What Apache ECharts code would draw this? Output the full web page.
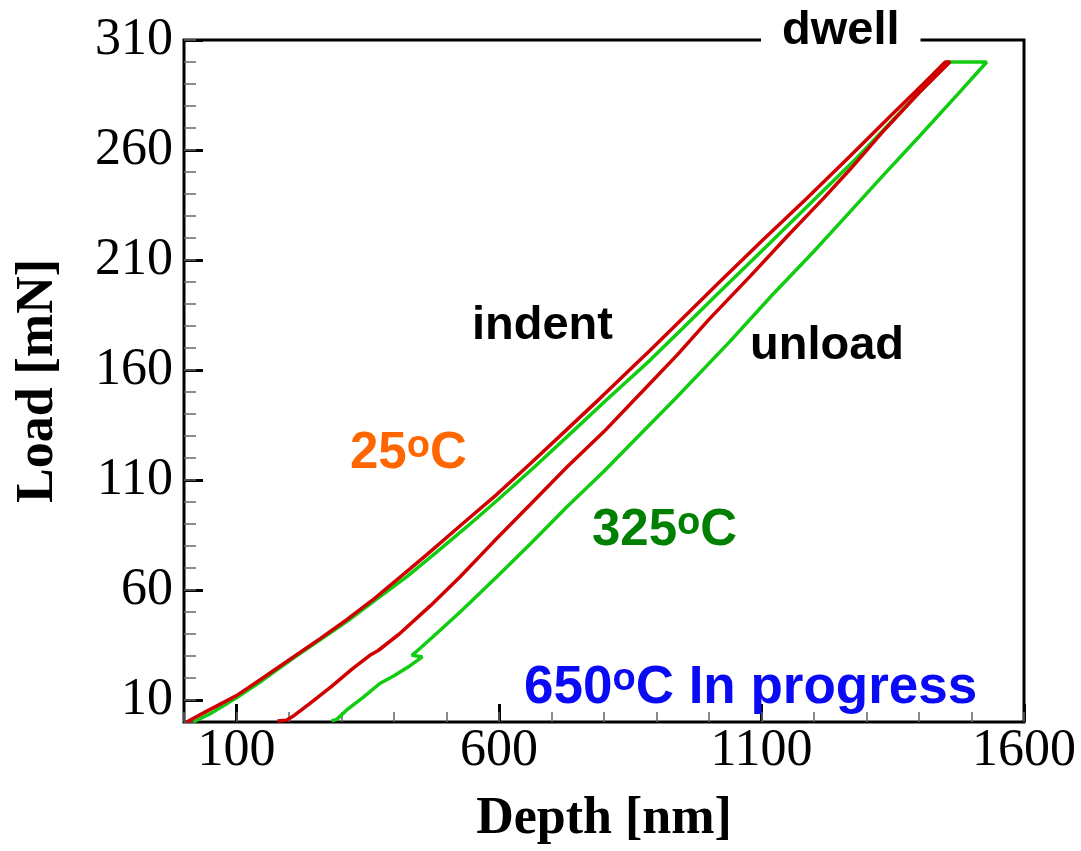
<!DOCTYPE html>
<html>
<head>
<meta charset="utf-8">
<script src="https://cdn.jsdelivr.net/npm/echarts@6/dist/echarts.min.js"></script>
<style>
html,body{margin:0;padding:0;background:#fff;}
#chart{width:1081px;height:851px;}
</style>
</head>
<body>
<div id="chart"></div>
<script>
// ---- data (depth nm, load mN) ----
var red25Loading = [[5,0],[40,4.5],[100,12],[150,20],[202,28.5],[260,38],[310,46.5],[362,56],[415,66.5],[462,76],[530,90],[596,103.5],[660,117.5],[725,132],[792,147],[855,161.5],[888,169],[950,183.5],[1020,200],[1100,218.5],[1186,238],[1268,257],[1350,276.5],[1410,290.5],[1450,300]];
var red25Unloading = [[1459,300],[1400,286],[1330,268],[1268,251],[1218,238],[1150,221],[1080,203],[1000,183],[940,167],[888,154],[862,147.5],[800,132],[730,116],[660,99],[590,82],[526,66],[470,53],[410,40],[370,32.5],[354,30.3],[320,24],[280,16],[240,8.5],[210,3],[195,0.8],[178,0.5]];
var green325Loading = [[18,0],[50,3.8],[100,11],[150,19],[205,28.5],[260,37.5],[312,46],[365,55.5],[424,66],[480,77],[540,89],[600,101.5],[670,116.5],[740,132],[805,146.5],[888,164.5],[950,179],[1020,195.5],[1100,214],[1205,238.5],[1280,256],[1360,276],[1420,291],[1455,300]];
var green325Unloading = [[1529,300],[1480,287],[1400,266],[1330,248],[1269,232],[1200,214],[1120,194],[1040,173],[938,147.5],[870,131],[800,114],[730,98],[660,81],[596,66],[526,50],[480,40],[445,32.5],[434,30.3],[454,29.6],[430,25.5],[400,21],[373,17.5],[340,11],[310,5.5],[291,1.2],[281,0.5]];
var xMajorTicks = [100,600,1100,1600];
var yMajorTicks = [10,60,110,160,210,260,310];

var serif = 'Liberation Serif, Times New Roman, serif';
var sans = 'Liberation Sans, Arial, sans-serif';

var chart = echarts.init(document.getElementById('chart'), null, {renderer:'canvas'});
var option = {
  backgroundColor:'#fff',
  animation:false,
  grid:{left:184,right:57,top:40,bottom:125,show:true,borderColor:'#000',borderWidth:3,backgroundColor:'transparent'},
  xAxis:[{
    type:'value',min:0,max:1600,
    name:'Depth [nm]',nameLocation:'middle',nameGap:72,
    nameTextStyle:{fontFamily:serif,fontWeight:'bold',fontSize:52,color:'#000'},
    axisLine:{show:false},
    axisTick:{show:true,inside:true,length:18,lineStyle:{color:'#000',width:3},customValues:xMajorTicks},
    axisLabel:{show:true,customValues:xMajorTicks,fontFamily:serif,fontSize:52,color:'#000',margin:3,
      formatter:function(v){return String(v);}},
    splitLine:{show:false}
  },{
    type:'value',min:0,max:1600,interval:100,position:'bottom',
    axisLine:{show:false},
    axisTick:{show:true,inside:true,length:10,lineStyle:{color:'#666',width:1.5}},
    axisLabel:{show:false},splitLine:{show:false}
  }],
  yAxis:[{
    type:'value',min:0,max:310,
    name:'Load [mN]',nameLocation:'middle',nameGap:119,nameRotate:90,
    nameTextStyle:{fontFamily:serif,fontWeight:'bold',fontSize:52,color:'#000'},
    axisLine:{show:false},
    axisTick:{show:true,inside:true,length:19,lineStyle:{color:'#000',width:3},customValues:yMajorTicks},
    axisLabel:{show:true,customValues:yMajorTicks,fontFamily:serif,fontSize:52,color:'#000',margin:11,
      formatter:function(v){return String(v);}},
    splitLine:{show:false}
  },{
    type:'value',min:0,max:310,interval:10,position:'left',
    axisLine:{show:false},
    axisTick:{show:true,inside:true,length:12,lineStyle:{color:'#666',width:1.5}},
    axisLabel:{show:false},splitLine:{show:false}
  }],
  series:[
    {name:'325C',type:'line',xAxisIndex:0,yAxisIndex:0,showSymbol:false,symbol:'none',
     data:green325Loading.concat(green325Unloading),
     lineStyle:{color:'#11cc11',width:3.5},z:2},
    {name:'25C',type:'line',xAxisIndex:0,yAxisIndex:0,showSymbol:false,symbol:'none',
     data:red25Loading.concat(red25Unloading),
     lineStyle:{color:'#d00000',width:3.5},z:3}
  ],
  graphic:[
    {type:'text',left:761,top:8,z:100,style:{text:'dwell',font:'bold 47px '+sans,fill:'#000',backgroundColor:'#fff',padding:[0,21,0,21]}},
    {type:'text',left:472,top:303,z:100,style:{text:'indent',font:'bold 47px '+sans,fill:'#000'}},
    {type:'text',left:750,top:323,z:100,style:{text:'unload',font:'bold 47px '+sans,fill:'#000'}},
    {type:'text',left:350,top:428,z:100,style:{text:'{a|25}{s|o}{a|C}',fill:'#ff6600',
      rich:{a:{fontFamily:sans,fontWeight:'bold',fontSize:51,color:'#ff6600',lineHeight:52},
            s:{fontFamily:sans,fontWeight:'bold',fontSize:38,color:'#ff6600',verticalAlign:'top',lineHeight:44}}}},
    {type:'text',left:592,top:505,z:100,style:{text:'{a|325}{s|o}{a|C}',fill:'#008000',
      rich:{a:{fontFamily:sans,fontWeight:'bold',fontSize:51,color:'#008000',lineHeight:52},
            s:{fontFamily:sans,fontWeight:'bold',fontSize:38,color:'#008000',verticalAlign:'top',lineHeight:44}}}},
    {type:'text',left:524,top:661,z:100,style:{text:'{a|650}{s|o}{a|C In progress}',fill:'#0a0af5',
      rich:{a:{fontFamily:sans,fontWeight:'bold',fontSize:53,color:'#0a0af5',lineHeight:54},
            s:{fontFamily:sans,fontWeight:'bold',fontSize:38,color:'#0a0af5',verticalAlign:'top',lineHeight:44}}}}
  ]
};
chart.setOption(option);
</script>
</body>
</html>
